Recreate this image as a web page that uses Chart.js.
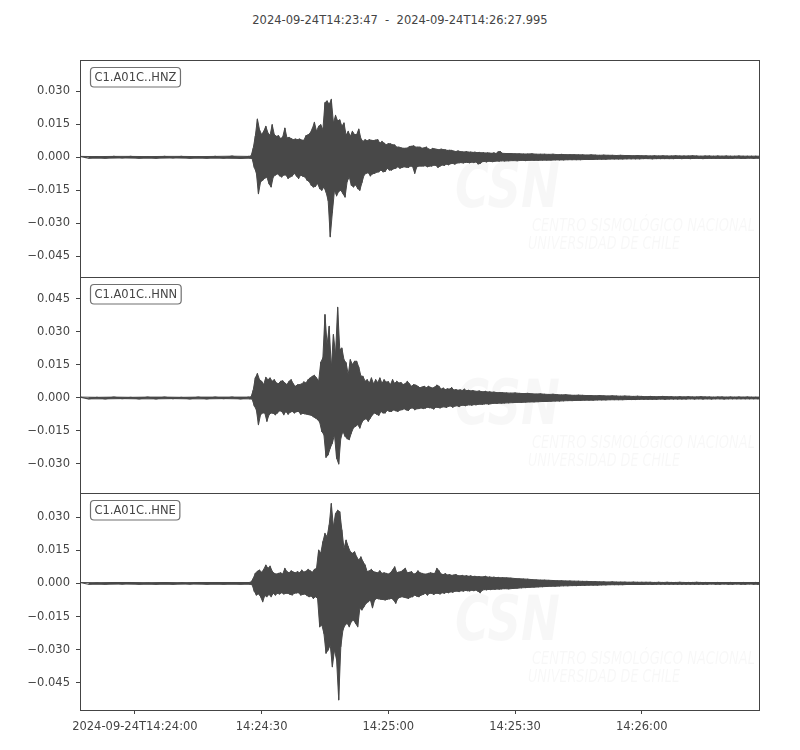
<!DOCTYPE html>
<html>
<head>
<meta charset="utf-8">
<title>C1.A01C seismogram</title>
<script src="https://cdn.jsdelivr.net/npm/chart.js@4.4.1/dist/chart.umd.min.js"></script>
<style>
  body { margin: 0; background: #fff; }
  #wrap { position: relative; width: 800px; height: 750px; }
  #wrap canvas { position: absolute; left: 0; top: 0; }
  #title { position: absolute; top: 13px; left: 0; width: 800px; text-align: center;
           font: 11.5px "DejaVu Sans"; color: #444; white-space: pre; }
</style>
</head>
<body>
<div id="wrap">
  <div id="title">2024-09-24T14:23:47  -  2024-09-24T14:26:27.995</div>
  <canvas id="hnz" width="800" height="750"></canvas>
  <canvas id="hnn" width="800" height="750"></canvas>
  <canvas id="hne" width="800" height="750"></canvas>
</div>
<script>
// trace start 14:23:47 (seconds of day), length in seconds
const startSec = 14 * 3600 + 23 * 60 + 47;
const traceLength = 160.995;

// sampling of the envelope: 3 blocks (offset from start, step in s, count)
const blockStart = [0, 40, 100];
const blockStep = [4, 0.5, 1];
const blockCount = [10, 120, 62];

// x ticks (seconds of day) and their labels
const xTicks = [51840, 51870, 51900, 51930, 51960];
const xTickLabels = ['2024-09-24T14:24:00', '14:24:30', '14:25:00', '14:25:30', '14:26:00'];

const channels = ['C1.A01C..HNZ', 'C1.A01C..HNN', 'C1.A01C..HNE'];

// y ticks per panel
const hnzTicks = [0.03, 0.015, 0, -0.015, -0.03, -0.045];
const hnnTicks = [0.045, 0.03, 0.015, 0, -0.015, -0.03];
const hneTicks = [0.03, 0.015, 0, -0.015, -0.03, -0.045];

// y limits per panel
const hnzRange = [-0.0544, 0.0442];
const hnnRange = [-0.0432, 0.0550];
const hneRange = [-0.0573, 0.0409];

// envelope max / min per sample
const hnzMax = [
  .0004,.0003,.0004,.0004,.0003,.0004,.0004,.0003,.0004,.0005,
  .0004,.0006,.0040,.0095,.0174,.0125,.0103,.0118,.0141,.0110,
  .0100,.0148,.0103,.0095,.0098,.0085,.0092,.0133,.0088,.0090,
  .0085,.0080,.0083,.0080,.0083,.0078,.0077,.0098,.0102,.0110,
  .0130,.0159,.0118,.0141,.0148,.0125,.0248,.0256,.0240,.0263,
  .0156,.0190,.0165,.0170,.0141,.0156,.0100,.0118,.0095,.0118,
  .0103,.0103,.0128,.0085,.0072,.0080,.0075,.0080,.0077,.0076,
  .0078,.0080,.0064,.0072,.0064,.0057,.0062,.0061,.0057,.0056,
  .0046,.0046,.0043,.0041,.0041,.0042,.0049,.0050,.0052,.0046,
  .0046,.0046,.0041,.0043,.0046,.0038,.0035,.0040,.0038,.0036,
  .0034,.0037,.0035,.0034,.0031,.0032,.0031,.0028,.0026,.0029,
  .0026,.0025,.0024,.0026,.0023,.0024,.0022,.0023,.0021,.0022,
  .0020,.0021,.0019,.0020,.0019,.0018,.0020,.0017,.0025,.0026,
  .0018,.0017,.0017,.0016,.0016,.0015,.0015,.0016,.0014,.0014,
  .0014,.0013,.0014,.0012,.0013,.0012,.0012,.0012,.0011,.0011,
  .0010,.0011,.0010,.0009,.0010,.0009,.0009,.0008,.0009,.0008,
  .0008,.0007,.0008,.0007,.0007,.0006,.0007,.0006,.0007,.0006,
  .0006,.0007,.0006,.0006,.0006,.0007,.0006,.0005,.0006,.0006,
  .0005,.0006,.0005,.0006,.0005,.0005,.0006,.0005,.0005,.0005,
  .0005,.0005
];
const hnzMin = [
  -.0004,-.0004,-.0003,-.0004,-.0004,-.0003,-.0004,-.0004,-.0004,-.0005,
  -.0004,-.0006,-.0045,-.0070,-.0165,-.0112,-.0104,-.0095,-.0090,-.0120,
  -.0135,-.0089,-.0081,-.0075,-.0084,-.0089,-.0081,-.0080,-.0096,-.0089,
  -.0085,-.0073,-.0085,-.0096,-.0081,-.0086,-.0089,-.0104,-.0110,-.0127,
  -.0135,-.0132,-.0119,-.0142,-.0150,-.0135,-.0158,-.0196,-.0361,-.0250,
  -.0150,-.0175,-.0155,-.0150,-.0165,-.0181,-.0110,-.0089,-.0127,-.0135,
  -.0125,-.0142,-.0150,-.0115,-.0081,-.0073,-.0070,-.0085,-.0075,-.0073,
  -.0068,-.0066,-.0058,-.0066,-.0064,-.0050,-.0058,-.0058,-.0052,-.0050,
  -.0043,-.0050,-.0046,-.0043,-.0045,-.0046,-.0040,-.0042,-.0073,-.0043,
  -.0040,-.0040,-.0040,-.0038,-.0043,-.0040,-.0040,-.0036,-.0037,-.0046,
  -.0040,-.0035,-.0037,-.0031,-.0034,-.0029,-.0028,-.0031,-.0026,-.0025,
  -.0024,-.0026,-.0023,-.0023,-.0025,-.0022,-.0024,-.0021,-.0030,-.0028,
  -.0020,-.0019,-.0021,-.0018,-.0019,-.0020,-.0018,-.0017,-.0018,-.0016,
  -.0017,-.0016,-.0015,-.0016,-.0014,-.0015,-.0014,-.0014,-.0014,-.0013,
  -.0013,-.0013,-.0012,-.0012,-.0012,-.0011,-.0011,-.0011,-.0011,-.0010,
  -.0010,-.0010,-.0009,-.0009,-.0009,-.0008,-.0008,-.0008,-.0008,-.0007,
  -.0007,-.0007,-.0007,-.0006,-.0006,-.0007,-.0006,-.0006,-.0006,-.0006,
  -.0006,-.0005,-.0006,-.0005,-.0006,-.0005,-.0005,-.0006,-.0005,-.0005,
  -.0005,-.0005,-.0005,-.0005,-.0005,-.0004,-.0005,-.0005,-.0004,-.0005,
  -.0004,-.0005
];

const hnnMax = [
  .0004,.0003,.0004,.0003,.0004,.0004,.0003,.0004,.0004,.0004,
  .0004,.0005,.0035,.0091,.0111,.0083,.0076,.0061,.0094,.0083,
  .0091,.0076,.0083,.0068,.0065,.0076,.0078,.0068,.0061,.0076,
  .0083,.0064,.0053,.0060,.0061,.0064,.0073,.0068,.0083,.0091,
  .0098,.0103,.0091,.0076,.0162,.0182,.0379,.0242,.0326,.0136,
  .0288,.0197,.0412,.0220,.0227,.0174,.0160,.0106,.0174,.0152,
  .0167,.0167,.0140,.0100,.0098,.0076,.0083,.0068,.0091,.0064,
  .0083,.0070,.0091,.0066,.0083,.0072,.0074,.0061,.0083,.0066,
  .0076,.0068,.0070,.0061,.0065,.0076,.0064,.0053,.0061,.0058,
  .0053,.0046,.0050,.0053,.0047,.0053,.0048,.0045,.0050,.0058,
  .0053,.0040,.0045,.0038,.0042,.0040,.0047,.0036,.0038,.0035,
  .0037,.0034,.0040,.0033,.0035,.0032,.0034,.0031,.0030,.0032,
  .0029,.0028,.0030,.0027,.0028,.0026,.0027,.0025,.0024,.0025,
  .0024,.0023,.0022,.0023,.0021,.0020,.0021,.0019,.0018,.0019,
  .0017,.0016,.0017,.0015,.0014,.0015,.0013,.0012,.0013,.0012,
  .0011,.0011,.0010,.0011,.0010,.0009,.0010,.0009,.0008,.0009,
  .0008,.0007,.0008,.0007,.0006,.0007,.0006,.0006,.0007,.0006,
  .0006,.0005,.0006,.0005,.0006,.0005,.0005,.0006,.0005,.0005,
  .0004,.0005,.0005,.0004,.0005,.0004,.0005,.0004,.0005,.0004,
  .0004,.0004
];
const hnnMin = [
  -.0004,-.0004,-.0003,-.0004,-.0004,-.0003,-.0004,-.0004,-.0003,-.0004,
  -.0004,-.0005,-.0035,-.0053,-.0121,-.0076,-.0068,-.0068,-.0106,-.0076,
  -.0068,-.0070,-.0076,-.0068,-.0058,-.0061,-.0076,-.0061,-.0074,-.0065,
  -.0061,-.0068,-.0062,-.0061,-.0074,-.0070,-.0072,-.0074,-.0076,-.0079,
  -.0085,-.0091,-.0098,-.0110,-.0152,-.0167,-.0270,-.0258,-.0227,-.0205,
  -.0167,-.0273,-.0300,-.0182,-.0152,-.0174,-.0185,-.0189,-.0159,-.0135,
  -.0129,-.0121,-.0137,-.0110,-.0098,-.0094,-.0106,-.0091,-.0076,-.0068,
  -.0074,-.0079,-.0061,-.0068,-.0068,-.0056,-.0061,-.0061,-.0054,-.0058,
  -.0061,-.0055,-.0053,-.0049,-.0054,-.0057,-.0047,-.0045,-.0053,-.0049,
  -.0048,-.0045,-.0048,-.0046,-.0042,-.0044,-.0045,-.0050,-.0042,-.0043,
  -.0045,-.0041,-.0040,-.0043,-.0038,-.0036,-.0042,-.0037,-.0035,-.0039,
  -.0034,-.0033,-.0035,-.0032,-.0031,-.0033,-.0030,-.0031,-.0029,-.0028,
  -.0029,-.0027,-.0026,-.0028,-.0026,-.0025,-.0024,-.0025,-.0023,-.0024,
  -.0023,-.0022,-.0021,-.0020,-.0020,-.0019,-.0018,-.0018,-.0017,-.0016,
  -.0016,-.0015,-.0014,-.0014,-.0013,-.0012,-.0012,-.0011,-.0011,-.0010,
  -.0010,-.0010,-.0009,-.0009,-.0009,-.0008,-.0008,-.0008,-.0008,-.0007,
  -.0007,-.0007,-.0006,-.0006,-.0006,-.0006,-.0006,-.0005,-.0006,-.0005,
  -.0005,-.0005,-.0005,-.0005,-.0004,-.0005,-.0004,-.0005,-.0004,-.0005,
  -.0004,-.0004,-.0005,-.0004,-.0004,-.0004,-.0004,-.0004,-.0004,-.0004,
  -.0004,-.0004
];

const hneMax = [
  .0004,.0003,.0004,.0004,.0003,.0004,.0003,.0004,.0004,.0004,
  .0004,.0006,.0022,.0045,.0055,.0060,.0050,.0063,.0083,.0068,
  .0078,.0055,.0045,.0042,.0045,.0048,.0042,.0068,.0053,.0048,
  .0057,.0051,.0048,.0053,.0048,.0060,.0051,.0055,.0063,.0057,
  .0050,.0063,.0068,.0151,.0136,.0188,.0226,.0211,.0264,.0361,
  .0256,.0316,.0331,.0324,.0241,.0158,.0196,.0166,.0143,.0136,
  .0143,.0120,.0105,.0120,.0098,.0083,.0053,.0057,.0063,.0053,
  .0050,.0048,.0057,.0045,.0048,.0045,.0042,.0048,.0060,.0075,
  .0048,.0051,.0053,.0060,.0068,.0048,.0050,.0053,.0042,.0045,
  .0057,.0048,.0045,.0042,.0042,.0045,.0048,.0045,.0045,.0068,
  .0057,.0042,.0040,.0044,.0038,.0040,.0036,.0038,.0040,.0035,
  .0034,.0036,.0033,.0035,.0032,.0034,.0031,.0032,.0030,.0031,
  .0029,.0030,.0032,.0028,.0029,.0027,.0028,.0026,.0027,.0025,
  .0026,.0025,.0024,.0022,.0021,.0020,.0019,.0017,.0016,.0015,
  .0015,.0014,.0013,.0012,.0012,.0011,.0011,.0010,.0010,.0009,
  .0009,.0008,.0008,.0007,.0007,.0006,.0007,.0006,.0006,.0006,
  .0005,.0006,.0005,.0005,.0005,.0005,.0004,.0005,.0004,.0005,
  .0004,.0004,.0005,.0004,.0004,.0004,.0005,.0004,.0004,.0004,
  .0004,.0004,.0004,.0004,.0004,.0004,.0004,.0004,.0004,.0004,
  .0004,.0004
];
const hneMin = [
  -.0004,-.0004,-.0003,-.0004,-.0004,-.0004,-.0003,-.0004,-.0004,-.0004,
  -.0004,-.0006,-.0035,-.0053,-.0047,-.0060,-.0083,-.0055,-.0060,-.0050,
  -.0060,-.0045,-.0053,-.0045,-.0048,-.0042,-.0048,-.0045,-.0045,-.0050,
  -.0052,-.0045,-.0043,-.0042,-.0053,-.0050,-.0048,-.0055,-.0060,-.0057,
  -.0068,-.0060,-.0068,-.0196,-.0188,-.0226,-.0316,-.0301,-.0279,-.0377,
  -.0301,-.0346,-.0527,-.0286,-.0211,-.0188,-.0181,-.0196,-.0173,-.0166,
  -.0181,-.0196,-.0113,-.0120,-.0105,-.0090,-.0083,-.0075,-.0110,-.0075,
  -.0068,-.0070,-.0072,-.0073,-.0075,-.0072,-.0070,-.0068,-.0075,-.0090,
  -.0068,-.0063,-.0060,-.0063,-.0065,-.0068,-.0062,-.0060,-.0053,-.0058,
  -.0060,-.0053,-.0050,-.0045,-.0053,-.0045,-.0045,-.0050,-.0045,-.0045,
  -.0048,-.0042,-.0045,-.0040,-.0042,-.0038,-.0040,-.0036,-.0035,-.0037,
  -.0033,-.0035,-.0032,-.0033,-.0034,-.0031,-.0033,-.0030,-.0036,-.0042,
  -.0031,-.0028,-.0029,-.0027,-.0028,-.0026,-.0027,-.0025,-.0026,-.0025,
  -.0024,-.0025,-.0023,-.0022,-.0020,-.0019,-.0018,-.0017,-.0016,-.0015,
  -.0014,-.0013,-.0013,-.0012,-.0011,-.0011,-.0010,-.0010,-.0009,-.0009,
  -.0008,-.0008,-.0008,-.0007,-.0007,-.0006,-.0006,-.0006,-.0006,-.0005,
  -.0005,-.0005,-.0005,-.0005,-.0004,-.0005,-.0004,-.0004,-.0004,-.0004,
  -.0004,-.0004,-.0004,-.0004,-.0004,-.0004,-.0004,-.0004,-.0004,-.0003,
  -.0004,-.0004,-.0003,-.0004,-.0004,-.0003,-.0004,-.0004,-.0003,-.0004,
  -.0004,-.0004
];

const textColor = '#444';
const lineColor = '#484848';
const font = { family: 'DejaVu Sans', size: 11.5 };

// sample times, in seconds of day
function sampleTimes() {
  const t = [];
  for (let b = 0; b < blockStart.length; b++) {
    for (let i = 0; i < blockCount[b]; i++) t.push({ t: startSec + blockStart[b] + i * blockStep[b], half: blockStep[b] / 2 });
  }
  return t;
}

// max at the sample time, min half a step later -> dense zig-zag trace
function zigzag(maxVals, minVals) {
  const pts = [];
  sampleTimes().forEach((s, k) => {
    pts.push({ x: s.t, y: maxVals[k] });
    pts.push({ x: s.t + s.half, y: minVals[k] });
  });
  return pts;
}

function envelope(vals, shift) {
  return sampleTimes().map((s, k) => ({ x: s.t + (shift ? s.half : 0), y: vals[k] }));
}

function fmtY(v) {
  return v.toFixed(3).replace('-', '\u2212');
}

// frame, channel label box and faint CSN watermark
const panelDecor = {
  id: 'panelDecor',
  beforeDatasetsDraw(chart) {
    const a = chart.chartArea, ctx = chart.ctx;
    ctx.save();
    ctx.fillStyle = 'rgba(0,0,0,0.03)';
    ctx.font = 'italic bold 62px "DejaVu Sans"';
    ctx.fillText('CSN', 455, a.top + 147, 105);
    ctx.font = 'italic 17px "DejaVu Sans"';
    ctx.fillText('CENTRO SISMOLÓGICO NACIONAL', 532, a.top + 171, 223);
    ctx.fillText('UNIVERSIDAD DE CHILE', 528, a.top + 189, 152);
    ctx.restore();
  },
  afterDraw(chart) {
    const a = chart.chartArea, ctx = chart.ctx;
    ctx.save();
    ctx.strokeStyle = '#444';
    ctx.lineWidth = 1;
    ctx.strokeRect(Math.round(a.left) + 0.5, Math.round(a.top) + 0.5,
                   Math.round(a.right - a.left) - 1, Math.round(a.bottom - a.top));
    // label box
    const label = chart.options.plugins.panelDecor.label;
    ctx.font = '11.5px "DejaVu Sans"';
    const w = ctx.measureText(label).width + 8;
    const x = a.left + 10.5, y = a.top + 7.5, h = 19.5, r = 3.5;
    ctx.beginPath();
    ctx.moveTo(x + r, y);
    ctx.arcTo(x + w, y, x + w, y + h, r);
    ctx.arcTo(x + w, y + h, x, y + h, r);
    ctx.arcTo(x, y + h, x, y, r);
    ctx.arcTo(x, y, x + w, y, r);
    ctx.closePath();
    ctx.fillStyle = '#fff';
    ctx.fill();
    ctx.strokeStyle = '#707070';
    ctx.lineWidth = 1.2;
    ctx.stroke();
    ctx.fillStyle = textColor;
    ctx.textBaseline = 'middle';
    ctx.fillText(label, x + 4, y + h / 2 + 0.5);
    ctx.restore();
  }
};

function makePanel(id, label, maxVals, minVals, range, yTicks, top, bottom, showX) {
  const line = { borderColor: lineColor, borderJoinStyle: 'round', pointRadius: 0, tension: 0 };
  new Chart(document.getElementById(id), {
    type: 'line',
    data: {
      datasets: [
        Object.assign({ data: envelope(maxVals, false), borderWidth: 1, fill: false }, line),
        Object.assign({ data: envelope(minVals, true), borderWidth: 1, fill: { target: '-1' }, backgroundColor: lineColor }, line),
        Object.assign({ data: zigzag(maxVals, minVals), borderWidth: 1.2, fill: false }, line)
      ]
    },
    options: {
      responsive: false,
      animation: false,
      events: [],
      parsing: false,
      layout: { padding: { left: 10, right: 40, top: top, bottom: showX ? 750 - bottom - 30 : 750 - bottom } },
      plugins: {
        legend: { display: false },
        tooltip: { enabled: false },
        filler: { propagate: false },
        panelDecor: { label: label }
      },
      scales: {
        x: {
          type: 'linear',
          display: showX,
          min: startSec,
          max: startSec + traceLength,
          afterBuildTicks: s => { s.ticks = xTicks.map(v => ({ value: v })); },
          afterFit: s => { if (showX) s.height = 30; },
          ticks: {
            autoSkip: false, maxRotation: 0, padding: 6, color: textColor, font: font,
            callback: v => xTickLabels[xTicks.indexOf(v)]
          },
          grid: { drawOnChartArea: false, tickLength: 4, color: '#444' },
          border: { display: false }
        },
        y: {
          min: range[0],
          max: range[1],
          afterBuildTicks: s => { s.ticks = yTicks.map(v => ({ value: v })); },
          afterFit: s => { s.width = 70; },
          ticks: { padding: 6, color: textColor, font: font, callback: v => fmtY(v) },
          grid: { drawOnChartArea: false, tickLength: 4, color: '#444' },
          border: { display: false }
        }
      }
    },
    plugins: [panelDecor]
  });
}

makePanel('hnz', channels[0], hnzMax, hnzMin, hnzRange, hnzTicks, 60, 277, false);
makePanel('hnn', channels[1], hnnMax, hnnMin, hnnRange, hnnTicks, 277, 493, false);
makePanel('hne', channels[2], hneMax, hneMin, hneRange, hneTicks, 493, 710, true);
</script>
</body>
</html>
